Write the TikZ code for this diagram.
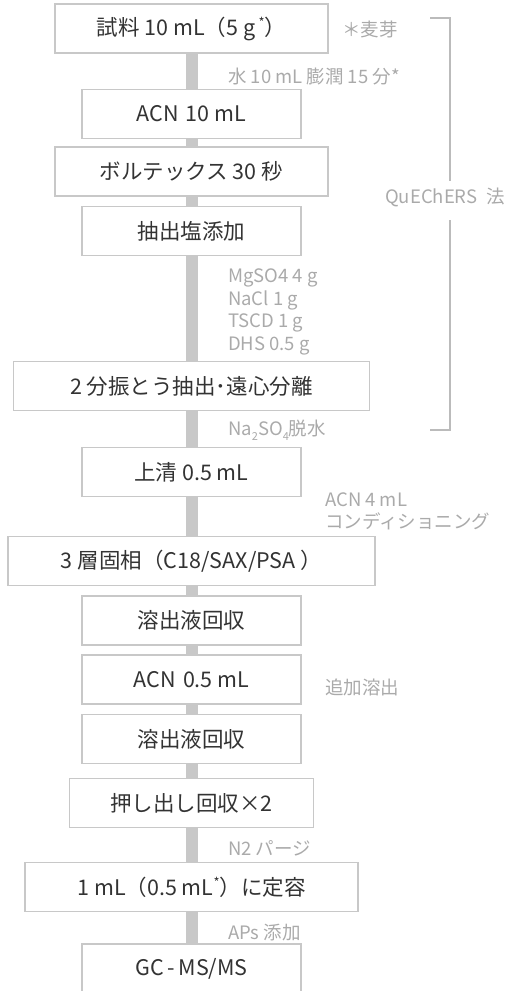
\documentclass[tikz,border=0pt]{standalone}
\usepackage{fontspec}
\setmainfont{Noto Sans CJK JP}
\usetikzlibrary{backgrounds}
\definecolor{boxline}{HTML}{C8C8C8}
\definecolor{bartone}{HTML}{C8C8C8}
\definecolor{maintext}{HTML}{333333}
\definecolor{sidetext}{HTML}{AAAAAA}
\definecolor{brackline}{HTML}{BBBBBB}
\tikzset{
  stepbox/.style={draw=boxline, line width=1.6pt, fill=white, rectangle,
    minimum height=49pt, inner sep=0pt, text=maintext,
    font=\fontsize{21.5}{25}\selectfont},
  sidenote/.style={anchor=west, inner sep=0pt, text=sidetext, align=left,
    font=\fontsize{18.5}{22.6}\selectfont},
  barlink/.style={draw=bartone, line width=12pt},
  brack/.style={draw=brackline, line width=1.4pt}
}
\begin{document}
\begin{tikzpicture}[x=1pt,y=-1pt]
\useasboundingbox (0,0) rectangle (511,991);
\clip (0,0) rectangle (511,991);
\node[stepbox, minimum width=273pt] (b1) at (191.5,28.5) {試料 10 mL（5 g\,\raisebox{0.35em}{\fontsize{13}{13}\selectfont *}）};
\node[stepbox, minimum width=219pt] (b2) at (191.5,114) {ACN\,\,10 mL};
\node[stepbox, minimum width=273pt] (b3) at (191.5,171.5) {ボルテックス 30 秒};
\node[stepbox, minimum width=219pt] (b4) at (191.5,231) {抽出塩添加};
\node[stepbox, minimum width=356pt] (b5) at (191.5,386) {2 分振とう抽出･遠心分離};
\node[stepbox, minimum width=219pt] (b6) at (191.5,472) {上清 0.5 mL};
\node[stepbox, minimum width=367pt] (b7) at (191.5,561) {3 層固相（C18/SAX/PSA ）};
\node[stepbox, minimum width=219pt] (b8) at (191.5,620.5) {溶出液回収};
\node[stepbox, minimum width=219pt] (b9) at (191.5,679.5) {ACN\,\,0.5 mL};
\node[stepbox, minimum width=219pt] (b10) at (191.5,739) {溶出液回収};
\node[stepbox, minimum width=244pt] (b11) at (191.5,803) {押し出し回収×2};
\node[stepbox, minimum width=333pt] (b12) at (191.5,887) {1 mL（0.5 mL\raisebox{0.35em}{\fontsize{13}{13}\selectfont *}）に定容};
\node[stepbox, minimum width=219pt, minimum height=50pt] (b13) at (191.5,969) {GC\,-\,MS/MS};
\begin{scope}[on background layer]
\draw[barlink] (b1) -- (b2);
\draw[barlink] (b2) -- (b3);
\draw[barlink] (b3) -- (b4);
\draw[barlink] (b4) -- (b5);
\draw[barlink] (b5) -- (b6);
\draw[barlink] (b6) -- (b7);
\draw[barlink] (b7) -- (b8);
\draw[barlink] (b8) -- (b9);
\draw[barlink] (b9) -- (b10);
\draw[barlink] (b10) -- (b11);
\draw[barlink] (b11) -- (b12);
\draw[barlink] (b12) -- (b13);
\end{scope}
% side notes
\node[sidenote] (n1) at (342,29) {＊麦芽};
\node[sidenote] (n2) at (228,77) {水 10 mL 膨潤 15 分*};
\node[sidenote] (nq) at (385,197) {QuEChERS\,\,\,法};
\node[sidenote] (n3) at (228,312) {MgSO4 4 g\\NaCl 1 g\\TSCD 1 g\\DHS 0.5 g};
\node[sidenote] (n4) at (228,430) {Na\raisebox{-0.25em}{\fontsize{11}{11}\selectfont 2}SO\raisebox{-0.25em}{\fontsize{11}{11}\selectfont 4}脱水};
\node[sidenote, font=\fontsize{18.5}{22}\selectfont] (n5) at (325,511) {ACN 4 mL\\コンディショニング};
\node[sidenote] (n6) at (325,687) {追加溶出};
\node[sidenote] (n7) at (228,848) {N2 パージ};
\node[sidenote] (n8) at (228,933) {APs 添加};
% bracket
\coordinate (qa) at (430,18);
\coordinate (qb) at (450,18);
\coordinate (qc) at (450,181);
\coordinate (qd) at (450,220);
\coordinate (qe) at (450,430);
\coordinate (qf) at (430,430);
\draw[brack] (qa) -- (qb) -- (qc);
\draw[brack] (qd) -- (qe) -- (qf);
\end{tikzpicture}
\end{document}
